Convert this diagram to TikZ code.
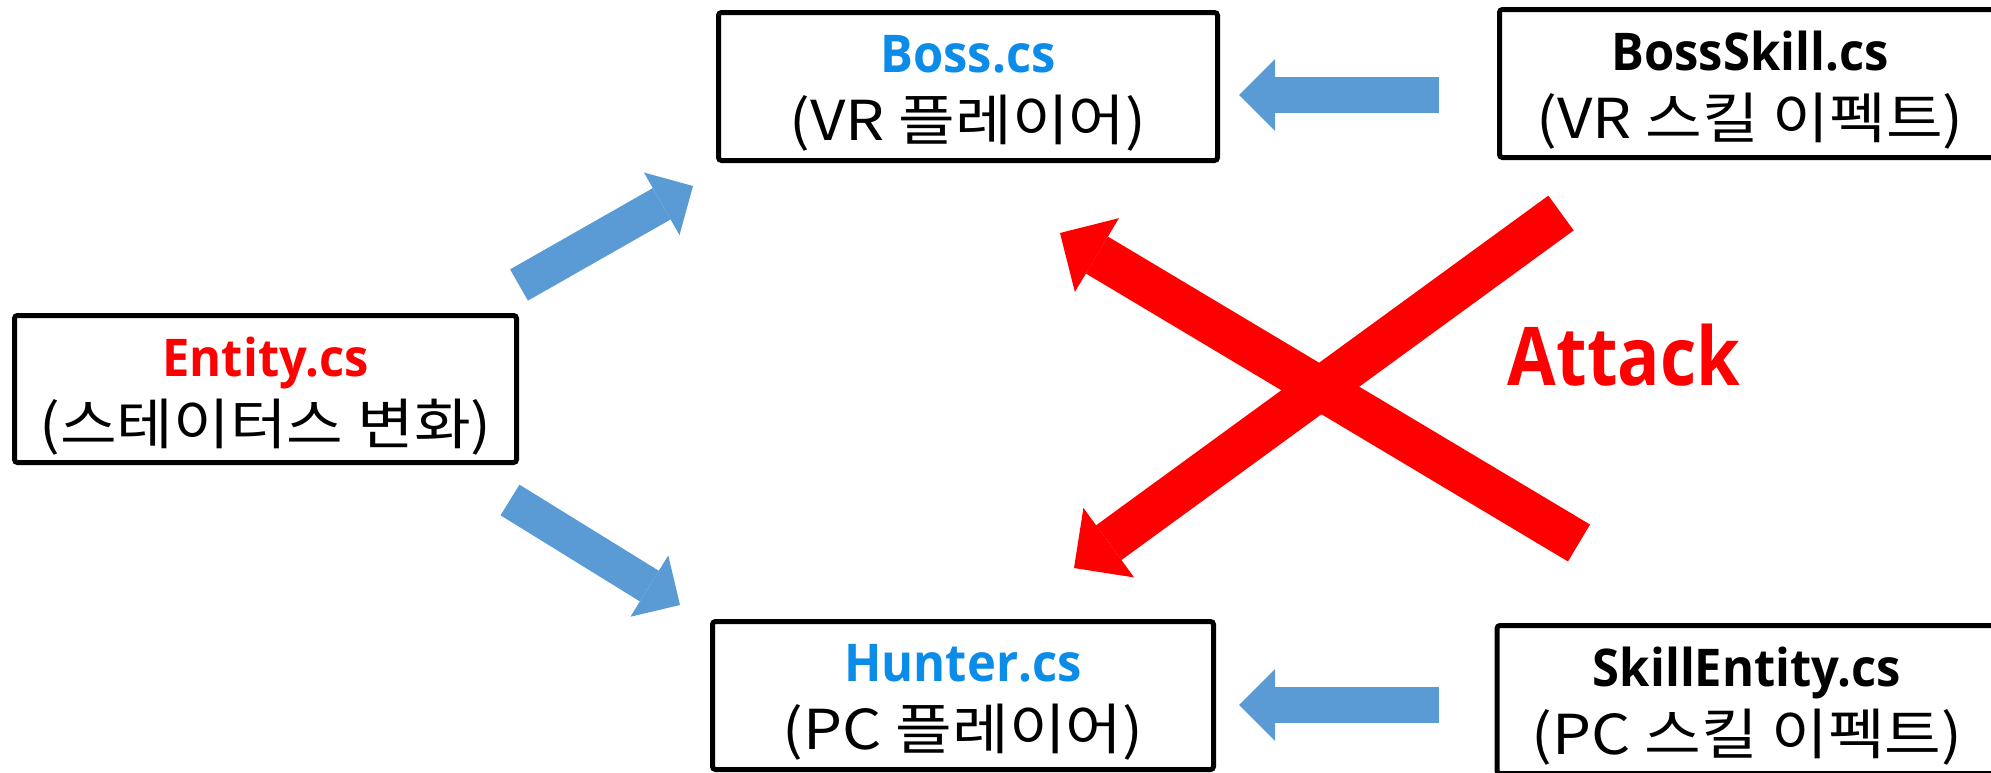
\documentclass[tikz,border=0pt]{standalone}
\usepackage{fontspec}
\setmainfont{Open Sans}
\newfontfamily\titlefont[FakeStretch=0.94]{Open Sans}
\newfontfamily\attackfont[FakeStretch=0.87]{Open Sans}
\newfontfamily\kr[FakeStretch=1.12]{Noto Sans CJK KR}
\usetikzlibrary{arrows.meta}
\definecolor{arrowblue}{HTML}{5B9BD5}
\definecolor{textblue}{HTML}{0A8CE8}
\definecolor{attackred}{HTML}{FF0000}
\newcommand{\ttl}[1]{{\titlefont\bfseries #1}}
\newcommand{\sub}[1]{{\kr\fontsize{27.5}{34}\selectfont #1}}
\begin{document}
\begin{tikzpicture}[x=0.5pt,y=-0.5pt,
  box/.style={draw=black, line width=2.5pt, rounded corners=1.5pt, fill=white,
    inner sep=0pt},
  boxtext/.style={align=center, inner sep=0pt, font=\fontsize{26}{34}\selectfont},
  bluearrow/.style={draw=arrowblue, line width=18pt,
    -{Triangle[length=18pt,width=36pt,line width=0pt]}},
  redarrow/.style={draw=attackred, line width=21.5pt,
    -{Triangle[length=21.5pt,width=43pt,line width=0pt]}},
]
\useasboundingbox (0,0) rectangle (1991,772);
\fill[white] (0,0) rectangle (1991,772);

% boxes
\node[box, minimum width=251pt, minimum height=73.5pt] (entity) at (265.5,389) {};
\node[box, minimum width=249.5pt, minimum height=74pt] (boss) at (968,86.5) {};
\node[box, minimum width=250.5pt, minimum height=74pt] (bossskill) at (1750,83.5) {};
\node[box, minimum width=250.5pt, minimum height=74pt] (hunter) at (963,695.5) {};
\node[box, minimum width=250pt, minimum height=74pt] (skillentity) at (1747,699.5) {};

% box texts
\node[boxtext] (entitytxt) at ([yshift=-3.5pt]entity.center)
  {\textcolor{attackred}{\ttl{Entity.cs}}\\\sub{(스테이터스 변화)}};
\node[boxtext] (bosstxt) at ([yshift=-3.5pt]boss.center)
  {\textcolor{textblue}{\ttl{Boss.cs}}\\\sub{(VR 플레이어)}};
\node[boxtext] (bossskilltxt) at ([yshift=-3.5pt]bossskill.center)
  {\ttl{BossSkill.cs}\\\sub{(VR 스킬 이펙트)}};
\node[boxtext] (huntertxt) at ([yshift=-3.5pt]hunter.center)
  {\textcolor{textblue}{\ttl{Hunter.cs}}\\\sub{(PC 플레이어)}};
\node[boxtext] (skillentitytxt) at ([yshift=-3.5pt]skillentity.center)
  {\ttl{SkillEntity.cs}\\\sub{(PC 스킬 이펙트)}};

% arrow end points
\coordinate (e2bT) at (519,285);  \coordinate (e2bH) at (693,186);
\coordinate (e2hT) at (510,500);  \coordinate (e2hH) at (680,605);
\coordinate (s2bT) at (1439,95);  \coordinate (s2bH) at (1239,95);
\coordinate (s2hT) at (1439,705); \coordinate (s2hH) at (1239,705);
\coordinate (r1T) at (1579,543);  \coordinate (r1H) at (1060,233);
\coordinate (r2T) at (1561,213);  \coordinate (r2H) at (1074,568);

\draw[bluearrow] (e2bT) -- (e2bH);
\draw[bluearrow] (e2hT) -- (e2hH);
\draw[bluearrow] (s2bT) -- (s2bH);
\draw[bluearrow] (s2hT) -- (s2hH);
\draw[redarrow] (r1T) -- (r1H);
\draw[redarrow] (r2T) -- (r2H);

\node[font=\attackfont\bfseries\fontsize{40.5}{40}\selectfont, text=attackred, inner sep=0pt]
  (attack) at (1624,355) {Attack};
\end{tikzpicture}
\end{document}
